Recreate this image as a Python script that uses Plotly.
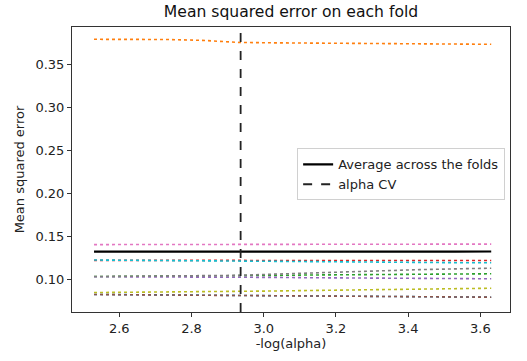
import plotly.graph_objects as go

neg_log_alpha = [2.53, 2.63, 2.73, 2.83, 2.93, 3.03, 3.13, 3.23, 3.33, 3.43, 3.53, 3.63]
alpha_cv = 2.936

fold_blue = [0.0830, 0.0827, 0.0823, 0.0818, 0.0813, 0.0809, 0.0806, 0.0803, 0.0801, 0.0800, 0.0799, 0.0798]
fold_orange = [0.3794, 0.3794, 0.3792, 0.3782, 0.3758, 0.3753, 0.3750, 0.3747, 0.3744, 0.3741, 0.3738, 0.3736]
fold_green = [0.1038, 0.1039, 0.1040, 0.1042, 0.1046, 0.1051, 0.1056, 0.1060, 0.1063, 0.1066, 0.1068, 0.1070]
fold_red = [0.1226, 0.1225, 0.1224, 0.1223, 0.1222, 0.1222, 0.1222, 0.1223, 0.1223, 0.1224, 0.1224, 0.1224]
fold_purple = [0.1036, 0.1036, 0.1035, 0.1034, 0.1032, 0.1028, 0.1024, 0.1021, 0.1018, 0.1015, 0.1013, 0.1012]
fold_brown = [0.0829, 0.0826, 0.0822, 0.0817, 0.0812, 0.0808, 0.0805, 0.0803, 0.0801, 0.0800, 0.0799, 0.0798]
fold_pink = [0.1409, 0.1410, 0.1410, 0.1411, 0.1412, 0.1412, 0.1413, 0.1413, 0.1414, 0.1414, 0.1415, 0.1415]
fold_gray = [0.1038, 0.1040, 0.1042, 0.1045, 0.1052, 0.1066, 0.1080, 0.1093, 0.1106, 0.1118, 0.1127, 0.1135]
fold_olive = [0.0852, 0.0854, 0.0856, 0.0859, 0.0864, 0.0870, 0.0876, 0.0882, 0.0888, 0.0894, 0.0898, 0.0902]
fold_cyan = [0.1230, 0.1226, 0.1222, 0.1218, 0.1214, 0.1210, 0.1207, 0.1204, 0.1202, 0.1200, 0.1199, 0.1198]

folds = [fold_blue, fold_orange, fold_green, fold_red, fold_purple,
         fold_brown, fold_pink, fold_gray, fold_olive, fold_cyan]
colors = ["#1f77b4", "#ff7f0e", "#2ca02c", "#d62728", "#9467bd",
          "#8c564b", "#e377c2", "#7f7f7f", "#bcbd22", "#17becf"]

y_limits = [0.0626, 0.3937]
x_limits = [2.469, 3.682]

average = [sum(f[i] for f in folds) / len(folds) for i in range(len(neg_log_alpha))]

fig = go.Figure()
for f, c in zip(folds, colors):
    fig.add_trace(go.Scatter(x=neg_log_alpha, y=f, mode="lines",
                             line=dict(color=c, width=1.6, dash="dot"),
                             showlegend=False))
fig.add_trace(go.Scatter(x=neg_log_alpha, y=average, mode="lines",
                         line=dict(color="black", width=2.2),
                         name="Average across the folds"))
fig.add_trace(go.Scatter(x=[alpha_cv, alpha_cv], y=y_limits, mode="lines",
                         line=dict(color="#222", width=1.8, dash="dash"),
                         name="alpha CV"))

axis_common = dict(showline=True, linecolor="#333", linewidth=1, mirror=True,
                   ticks="outside", ticklen=4, tickcolor="#333",
                   showgrid=False, zeroline=False, automargin=False,
                   tickfont=dict(size=13, color="#222"))

fig.update_layout(
    width=527, height=361,
    margin=dict(l=72, r=17, t=27, b=49),
    paper_bgcolor="white", plot_bgcolor="white",
    font=dict(family="DejaVu Sans", color="#222"),
    title=dict(text="Mean squared error on each fold", x=0.5, xanchor="center",
               xref="paper", yref="container",
               y=1 - 12 / 361, yanchor="middle", font=dict(size=15.6, color="#111")),
    xaxis=dict(range=x_limits, tickvals=[2.6, 2.8, 3.0, 3.2, 3.4, 3.6],
               ticktext=["2.6", "2.8", "3.0", "3.2", "3.4", "3.6"],
               title=dict(text="-log(alpha)", font=dict(size=13), standoff=3),
               **axis_common),
    yaxis=dict(range=y_limits, tickvals=[0.10, 0.15, 0.20, 0.25, 0.30, 0.35],
               ticktext=["0.10", "0.15", "0.20", "0.25", "0.30", "0.35"],
               title=dict(text="Mean squared error", font=dict(size=13), standoff=7),
               **axis_common),
    legend=dict(x=0.514, y=0.574, xanchor="left", yanchor="top",
                bordercolor="#d0d0d0", borderwidth=1, bgcolor="white",
                font=dict(size=13, color="#222"), tracegroupgap=0),
)

fig.write_html("out.html", config={"displayModeBar": False},
               post_script="document.body.style.margin='0';")
